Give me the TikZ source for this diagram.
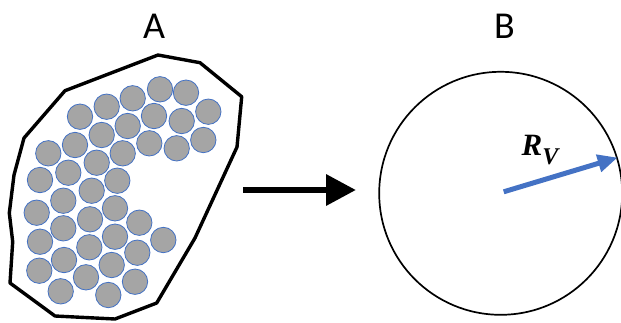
\documentclass[tikz,border=0pt]{standalone}
\usepackage{fontspec}
\setmainfont{Carlito}
\usetikzlibrary{arrows.meta}
\definecolor{ballgray}{HTML}{A5A5A5}
\definecolor{ballblue}{HTML}{4472C4}
\tikzset{
  ball/.style={circle, draw=ballblue, line width=0.8pt, fill=ballgray, minimum size=25.4pt, inner sep=0pt},
  hull/.style={draw=black, line width=3.4pt, line join=round},
  label/.style={font=\fontsize{38}{38}\selectfont, inner sep=0pt},
}
\begin{document}
\begin{tikzpicture}[x=1pt,y=-1pt]
\useasboundingbox (0,0) rectangle (621,322);
% hull
\draw[hull] (158,55) -- (200,62.7) -- (241.7,96.7) -- (237,147) -- (195,238) -- (156.7,303) -- (115,319) -- (55,316) -- (10,283) -- (12.7,241.7) -- (9.3,213) -- (14,175) -- (24,138) -- (65,90.7) -- cycle;
% balls
\foreach \i/\x/\y in {1/160/89.3, 2/186/92.7, 3/132.7/98.3, 4/106.7/106.7, 5/80/116.7,
  6/208.3/111.7, 7/181.7/121, 8/154/116, 9/127.7/126, 10/101.7/135, 11/75/145, 12/48.3/153.3,
  13/203.3/140, 14/176.7/148.3, 15/149.3/143.3, 16/122.7/153.3, 17/96.7/162.7, 18/68.3/172.7, 19/40/180,
  20/117.3/180.7, 21/91.7/190.7, 22/63.3/200.7, 23/36.7/212.7,
  24/115/208.3, 25/90/219.3, 26/63.3/228.3, 27/40/241.7,
  28/139.3/222.7, 29/163.3/240, 30/115/236.7, 31/89.3/247.3, 32/64/260, 33/39.3/270.7,
  34/137.3/252.7, 35/111.7/265, 36/86/277.3, 37/60.7/291.3,
  38/135/281.7, 39/108.3/295}
  \node[ball] (b\i) at (\x,\y) {};
% labels
\node[label] (labA) at (154,26) {A};
\node[label] (labB) at (504.5,26) {B};
% main arrow
\coordinate (arS) at (243,190);
\coordinate (arE) at (356,190);
\draw[line width=6.5pt, -{Triangle[length=30pt,width=30pt]}] (arS) -- (arE);
% sphere
\node[circle, draw=black, line width=1.7pt, minimum size=243pt, inner sep=0pt] (sph) at (500.7,193.3) {};
\draw[ballblue, line width=5pt, -{Triangle[length=20pt,width=17pt]}] ([shift={(3,-1.5)}]sph.center) -- (sph.17);
\node[inner sep=0pt] (rv) at (540,150) {\fontspec{Liberation Serif}\fontsize{31}{31}\selectfont\bfseries\itshape R\raisebox{-9pt}{\fontsize{24}{24}\selectfont V}};
\end{tikzpicture}
\end{document}
